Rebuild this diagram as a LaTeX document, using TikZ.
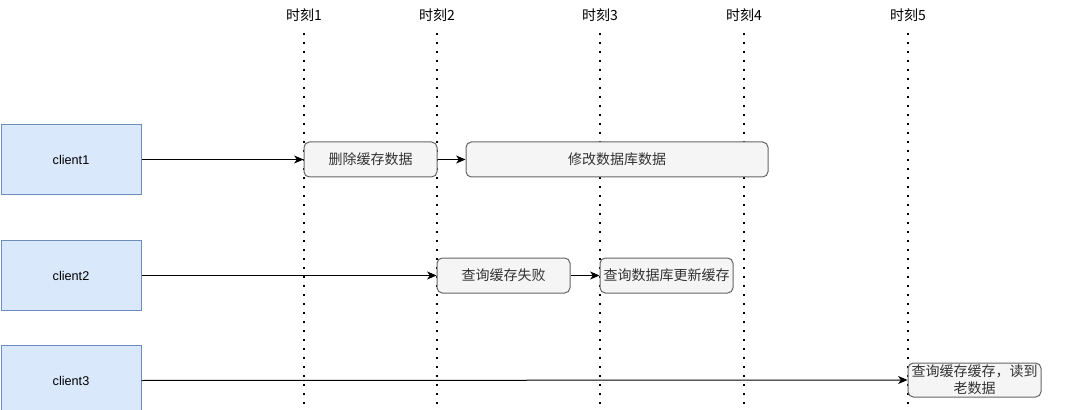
\documentclass[tikz,border=0pt]{standalone}
\usepackage{fontspec}
\setmainfont{Liberation Sans}
\newfontfamily\cjk{Noto Sans CJK SC}
\usetikzlibrary{arrows.meta}
\definecolor{cfill}{HTML}{DAE8FC}
\definecolor{cstroke}{HTML}{6C8EBF}
\definecolor{gfill}{HTML}{F5F5F5}
\definecolor{gstroke}{HTML}{666666}
\definecolor{gtext}{HTML}{333333}
\tikzset{
  clientbox/.style={draw=cstroke, fill=cfill, line width=0.75pt, minimum width=105pt, minimum height=52pt, inner sep=0pt, font=\fontsize{9.5}{11}\selectfont},
  stepbox/.style={draw=gstroke, fill=gfill, rounded corners=4pt, line width=0.75pt, minimum height=26.25pt, inner sep=0pt, text=gtext, font=\cjk\fontsize{10.5}{12.5}\selectfont, align=center},
  timeline/.style={line width=1.5pt, dash pattern=on 1.5pt off 5.25pt},
  tlabel/.style={font=\cjk\fontsize{10.5}{12}\selectfont, inner sep=0pt},
  flow/.style={line width=0.75pt, -{Stealth[length=7pt,width=6pt,inset=2pt]}},
}
\begin{document}
\begin{tikzpicture}[x=0.75pt,y=-0.75pt]
\useasboundingbox (0,0) rectangle (1083,410);
% time lines
\foreach \i/\x in {1/304,2/437,3/600,4/744,5/908}{
  \node[tlabel] (t\i) at (\x,15) {时刻\i};
  \coordinate (b\i) at (\x,410);
  \draw[timeline] (\x,33) -- (b\i);
}
% clients
\node[clientbox] (c1) at (71,159.5) {client1};
\node[clientbox] (c2) at (71,275.5) {client2};
\node[clientbox] (c3) at (71,380.5) {client3};
% steps
\node[stepbox, minimum width=99.75pt] (s1) at (370.5,159.5) {删除缓存数据};
\node[stepbox, minimum width=226.5pt] (s2) at (617,159.5) {修改数据库数据};
\node[stepbox, minimum width=99.75pt] (s3) at (503.5,275.5) {查询缓存失败};
\node[stepbox, minimum width=99.75pt] (s4) at (666.5,275.5) {查询数据库更新缓存};
\node[stepbox, minimum width=99.75pt, minimum height=25.5pt] (s5) at (974.5,380) {查询缓存缓存，读到\\老数据};
% connectors
\draw[flow] (c1.east) -- (s1.west);
\draw[flow] (s1.east) -- (s2.west);
\draw[flow] (c2.east) -- (s3.west);
\draw[flow] (s3.east) -- (s4.west);
\draw[flow] (c3.east) -- (s5.west);
\end{tikzpicture}
\end{document}
